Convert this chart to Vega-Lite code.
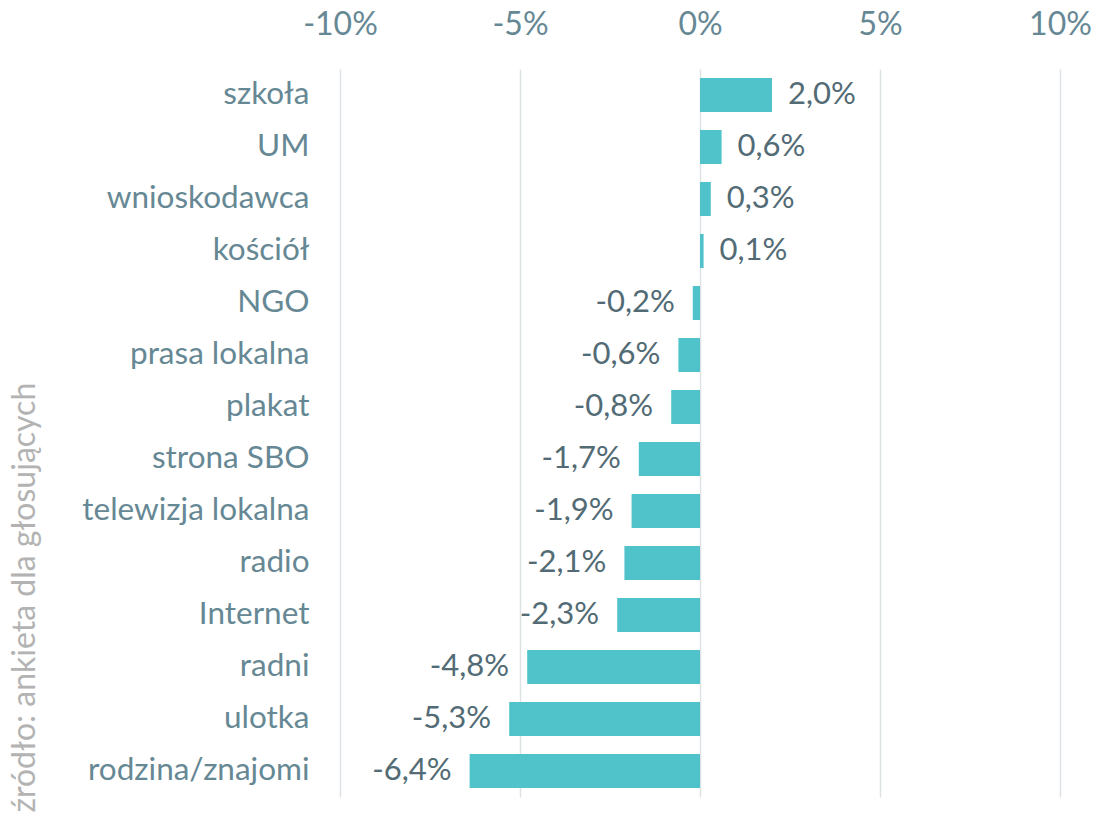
{
  "$schema": "https://vega.github.io/schema/vega-lite/v6.json",
  "width": 720,
  "height": 728,
  "autosize": "none",
  "padding": {"left": 340, "top": 69, "right": 37, "bottom": 17},
  "background": "white",
  "config": {
    "locale": {"number": {"decimal": ",", "thousands": " ", "grouping": [3], "currency": ["", " zł"], "minus": "-"}},
    "font": "Lato",
    "view": {"stroke": null},
    "axis": {"labelFont": "Lato", "titleFont": "Lato"}
  },
  "data": {
    "values": [
      {"kanal": "szkoła", "wartosc": 0.020},
      {"kanal": "UM", "wartosc": 0.006},
      {"kanal": "wnioskodawca", "wartosc": 0.003},
      {"kanal": "kościół", "wartosc": 0.001},
      {"kanal": "NGO", "wartosc": -0.002},
      {"kanal": "prasa lokalna", "wartosc": -0.006},
      {"kanal": "plakat", "wartosc": -0.008},
      {"kanal": "strona SBO", "wartosc": -0.017},
      {"kanal": "telewizja lokalna", "wartosc": -0.019},
      {"kanal": "radio", "wartosc": -0.021},
      {"kanal": "Internet", "wartosc": -0.023},
      {"kanal": "radni", "wartosc": -0.048},
      {"kanal": "ulotka", "wartosc": -0.053},
      {"kanal": "rodzina/znajomi", "wartosc": -0.064}
    ]
  },
  "encoding": {
    "y": {
      "field": "kanal",
      "type": "nominal",
      "sort": null,
      "scale": {"paddingInner": 0.346, "paddingOuter": 0.173},
      "axis": {
        "title": "źródło: ankieta dla głosujących",
        "titleColor": "#b3b3b3",
        "titleFontSize": 32,
        "titleFontWeight": "normal",
        "titleX": -316,
        "titleY": 743,
        "titleAngle": -90,
        "titleAlign": "left",
        "titleBaseline": "middle",
        "labelFontSize": 31.5,
        "labelColor": "#668894",
        "labelPadding": 31,
        "labelLimit": 400,
        "ticks": false,
        "domain": false,
        "grid": false
      }
    }
  },
  "layer": [
    {
      "mark": {"type": "bar", "color": "#50c3ca"},
      "encoding": {
        "x": {
          "field": "wartosc",
          "type": "quantitative",
          "scale": {"domain": [-0.1, 0.1], "nice": false},
          "axis": {
            "orient": "top",
            "values": [-0.1, -0.05, 0, 0.05, 0.1],
            "format": ".0%",
            "title": null,
            "labelFontSize": 32,
            "labelColor": "#668894",
            "labelPadding": 28,
            "labelFlush": false,
            "labelOverlap": false,
            "ticks": false,
            "domain": false,
            "grid": true,
            "gridColor": "#dde2e5",
            "gridWidth": 1.5
          }
        }
      }
    },
    {
      "transform": [{"filter": "datum.wartosc >= 0"}],
      "mark": {"type": "text", "align": "left", "baseline": "middle", "dx": 16, "fontSize": 31, "color": "#526b75"},
      "encoding": {
        "x": {"field": "wartosc", "type": "quantitative"},
        "text": {"field": "wartosc", "type": "quantitative", "format": ".1%"}
      }
    },
    {
      "transform": [{"filter": "datum.wartosc < 0"}],
      "mark": {"type": "text", "align": "right", "baseline": "middle", "dx": -18, "fontSize": 31, "color": "#526b75"},
      "encoding": {
        "x": {"field": "wartosc", "type": "quantitative"},
        "text": {"field": "wartosc", "type": "quantitative", "format": ".1%"}
      }
    }
  ]
}
